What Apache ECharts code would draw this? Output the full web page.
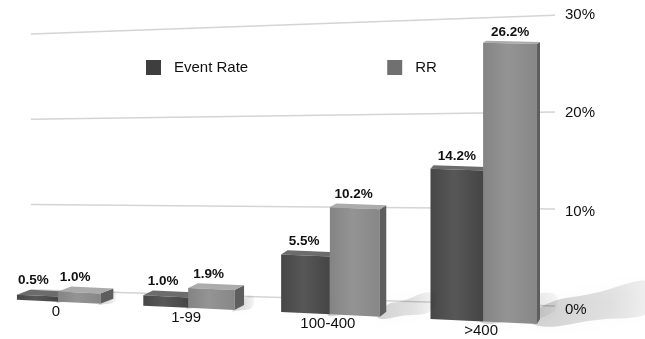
<!DOCTYPE html>
<html>
<head>
<meta charset="utf-8">
<script src="https://cdn.jsdelivr.net/npm/echarts@6/dist/echarts.min.js"></script>
<style>
  html, body { margin: 0; padding: 0; background: #ffffff; }
  #chart { width: 645px; height: 339px; }
</style>
</head>
<body>
<div id="chart"></div>
<script>
// Data
const categories = ['0', '1-99', '100-400', '>400'];
const eventRate = [0.5, 1.0, 5.5, 14.2];
const rr = [1.0, 1.9, 10.2, 26.2];
const axisTicks = [0, 10, 20, 30];

const FONT = '"Liberation Sans", Arial, Helvetica, sans-serif';

// ---- perspective helpers (the scene is viewed from the front-right) ----
// category position u (in category units, 0 = first centre) -> screen x
function screenX(cs, band, u) {
  return cs.x + band * (0.206 + 0.950 * u + 0.0439 * u * u);
}
// floor line the bars stand on: drops toward the viewer on the right
function floorY(x) { return 300.7 + 0.0464 * (x - 36); }
// vertical magnification of the bars relative to the plain axis scale
function barScale(x) { return (10.2 + 0.0009 * x) / 9.833; }
// back wall: gridlines converge toward the far (left) side
function wallY(cs, x, h) {
  const t = (x - cs.x) / cs.width;
  const base = cs.y + cs.height - 20.2 + 16.2 * t;
  const k = 0.867 + 0.119 * t;
  return base - h * k;
}

const PALETTE = {
  'Event Rate': {
    legend: '#3e3e3e',
    front: ['#474747', '#575757', '#454545'],
    top: '#6c6c6c',
    side: '#353535'
  },
  'RR': {
    legend: '#707070',
    front: ['#848484', '#949494', '#878787'],
    top: '#ababab',
    side: '#5e5e5e'
  }
};

function makeBarRender(sideIndex, name) {
  const col = PALETTE[name];
  return function (params, api) {
    const cs = params.coordSys;
    const cat = api.value(0);
    const val = api.value(1);
    const p0 = api.coord([cat, 0]);
    const p1 = api.coord([cat, val]);
    const band = api.size([1, 0])[0];
    const u = (p0[0] - cs.x) / band - 0.5;
    const h = p0[1] - p1[1];
    const halfW = 0.335;
    const u0 = sideIndex === 0 ? u - halfW : u;
    const u1 = sideIndex === 0 ? u : u + halfW;
    const x0 = screenX(cs, band, u0);
    const x1 = screenX(cs, band, u1);
    const b0 = floorY(x0), b1 = floorY(x1);
    const t0 = b0 - h * barScale(x0);
    const t1 = b1 - h * barScale(x1);
    const dx = 13 - 3.33 * u;
    const dyTop = -5 + 0.0117 * h;
    const dyBot = -5;

    // soft floor shadow cast to the back-right
    const L = 0.43 * h;
    const thick = 6 + 0.15 * L;
    const shadowPts = [
      [x1 - 2, b1 + 1],
      [x1 + 0.5 * L, b1 - 0.04 * L + 1],
      [x1 + L + 10, b1 - 0.12 * L - 2],
      [x1 + L + 10, b1 - 0.12 * L - thick - 6],
      [x1 + 0.5 * L, b1 - 0.07 * L - thick],
      [x1 + dx, b1 + dyBot - thick * 0.5]
    ];

    const sidePts = [[x1, b1], [x1, t1], [x1 + dx, t1 + dyTop], [x1 + dx, b1 + dyBot]];
    const topPts = [[x0, t0], [x1, t1], [x1 + dx, t1 + dyTop], [x0 + dx, t0 + dyTop]];
    const frontPts = [[x0, b0], [x1, b1], [x1, t1], [x0, t0]];

    const labelX = (x0 + x1) / 2 - 4 + 1.33 * u;
    const labelY = Math.min(t0, t1) + dyTop - 2;

    return {
      type: 'group',
      children: [
        {
          type: 'polygon',
          shape: { points: shadowPts, smooth: 0.5 },
          style: {
            fill: {
              type: 'linear', x: 0, y: 0, x2: 1, y2: 0,
              colorStops: [
                { offset: 0, color: 'rgba(0,0,0,0.17)' },
                { offset: 0.6, color: 'rgba(0,0,0,0.11)' },
                { offset: 1, color: 'rgba(0,0,0,0.03)' }
              ]
            },
            shadowBlur: 16,
            shadowColor: 'rgba(0,0,0,0.14)'
          }
        },
        { type: 'polygon', shape: { points: sidePts }, style: { fill: col.side } },
        { type: 'polygon', shape: { points: topPts }, style: { fill: col.top } },
        {
          type: 'polygon',
          shape: { points: frontPts },
          style: {
            fill: {
              type: 'linear', x: 0, y: 0, x2: 1, y2: 0,
              colorStops: [
                { offset: 0, color: col.front[0] },
                { offset: 0.45, color: col.front[1] },
                { offset: 1, color: col.front[2] }
              ]
            }
          }
        },
        {
          type: 'text',
          style: {
            text: val.toFixed(1) + '%',
            x: labelX,
            y: labelY,
            align: 'center',
            verticalAlign: 'bottom',
            font: 'bold 13.5px ' + FONT,
            fill: '#111111'
          }
        }
      ]
    };
  };
}

function renderWall(params, api) {
  const cs = params.coordSys;
  const v = api.value(1);
  const base = api.coord([0, 0])[1];
  const h = base - api.coord([0, v])[1];
  const xl = cs.x, xr = cs.x + cs.width;
  return {
    type: 'line',
    shape: { x1: xl, y1: wallY(cs, xl, h), x2: xr, y2: wallY(cs, xr, h) },
    style: { stroke: '#d4d4d4', lineWidth: 1.5 }
  };
}

function renderCategoryLabel(params, api) {
  const cs = params.coordSys;
  const cat = api.value(0);
  const p = api.coord([cat, 0]);
  const band = api.size([1, 0])[0];
  const u = (p[0] - cs.x) / band - 0.5;
  const x = screenX(cs, band, u) - 2;
  return {
    type: 'text',
    style: {
      text: categories[params.dataIndex],
      x: x,
      y: floorY(x) + 10,
      align: 'center',
      verticalAlign: 'middle',
      font: '15px ' + FONT,
      fill: '#111111'
    }
  };
}

const chart = echarts.init(document.getElementById('chart'), null, { renderer: 'canvas' });

chart.setOption({
  backgroundColor: '#ffffff',
  animation: false,
  grid: { left: 31, right: 90, top: 15, bottom: 29, containLabel: false },
  legend: {
    data: [
      { name: 'Event Rate', itemStyle: { color: PALETTE['Event Rate'].legend } },
      { name: 'RR', itemStyle: { color: PALETTE['RR'].legend } }
    ],
    icon: 'rect',
    left: 141,
    top: 55,
    itemWidth: 15,
    itemHeight: 15,
    itemGap: 139,
    selectedMode: false,
    textStyle: { fontSize: 15, color: '#111111', fontFamily: FONT, padding: [0, 0, 0, 8] }
  },
  xAxis: {
    type: 'category',
    data: categories,
    axisLine: { show: false },
    axisTick: { show: false },
    axisLabel: { show: false },
    splitLine: { show: false }
  },
  yAxis: {
    type: 'value',
    position: 'right',
    min: 0,
    max: 30,
    interval: 10,
    axisLine: { show: false },
    axisTick: { show: false },
    splitLine: { show: false },
    axisLabel: {
      formatter: '{value}%',
      margin: 10,
      fontSize: 15,
      color: '#111111',
      fontFamily: FONT
    }
  },
  series: [
    {
      name: 'wall',
      type: 'custom',
      silent: true,
      clip: false,
      renderItem: renderWall,
      data: axisTicks.map(v => [0, v]),
      z: 1
    },
    {
      name: 'Event Rate',
      type: 'custom',
      silent: true,
      clip: false,
      itemStyle: { color: PALETTE['Event Rate'].legend },
      renderItem: makeBarRender(0, 'Event Rate'),
      data: eventRate.map((v, i) => [i, v]),
      z: 2
    },
    {
      name: 'RR',
      type: 'custom',
      silent: true,
      clip: false,
      itemStyle: { color: PALETTE['RR'].legend },
      renderItem: makeBarRender(1, 'RR'),
      data: rr.map((v, i) => [i, v]),
      z: 3
    },
    {
      name: 'categoryLabels',
      type: 'custom',
      silent: true,
      clip: false,
      renderItem: renderCategoryLabel,
      data: categories.map((c, i) => [i, 0]),
      z: 4
    }
  ]
});
</script>
</body>
</html>
